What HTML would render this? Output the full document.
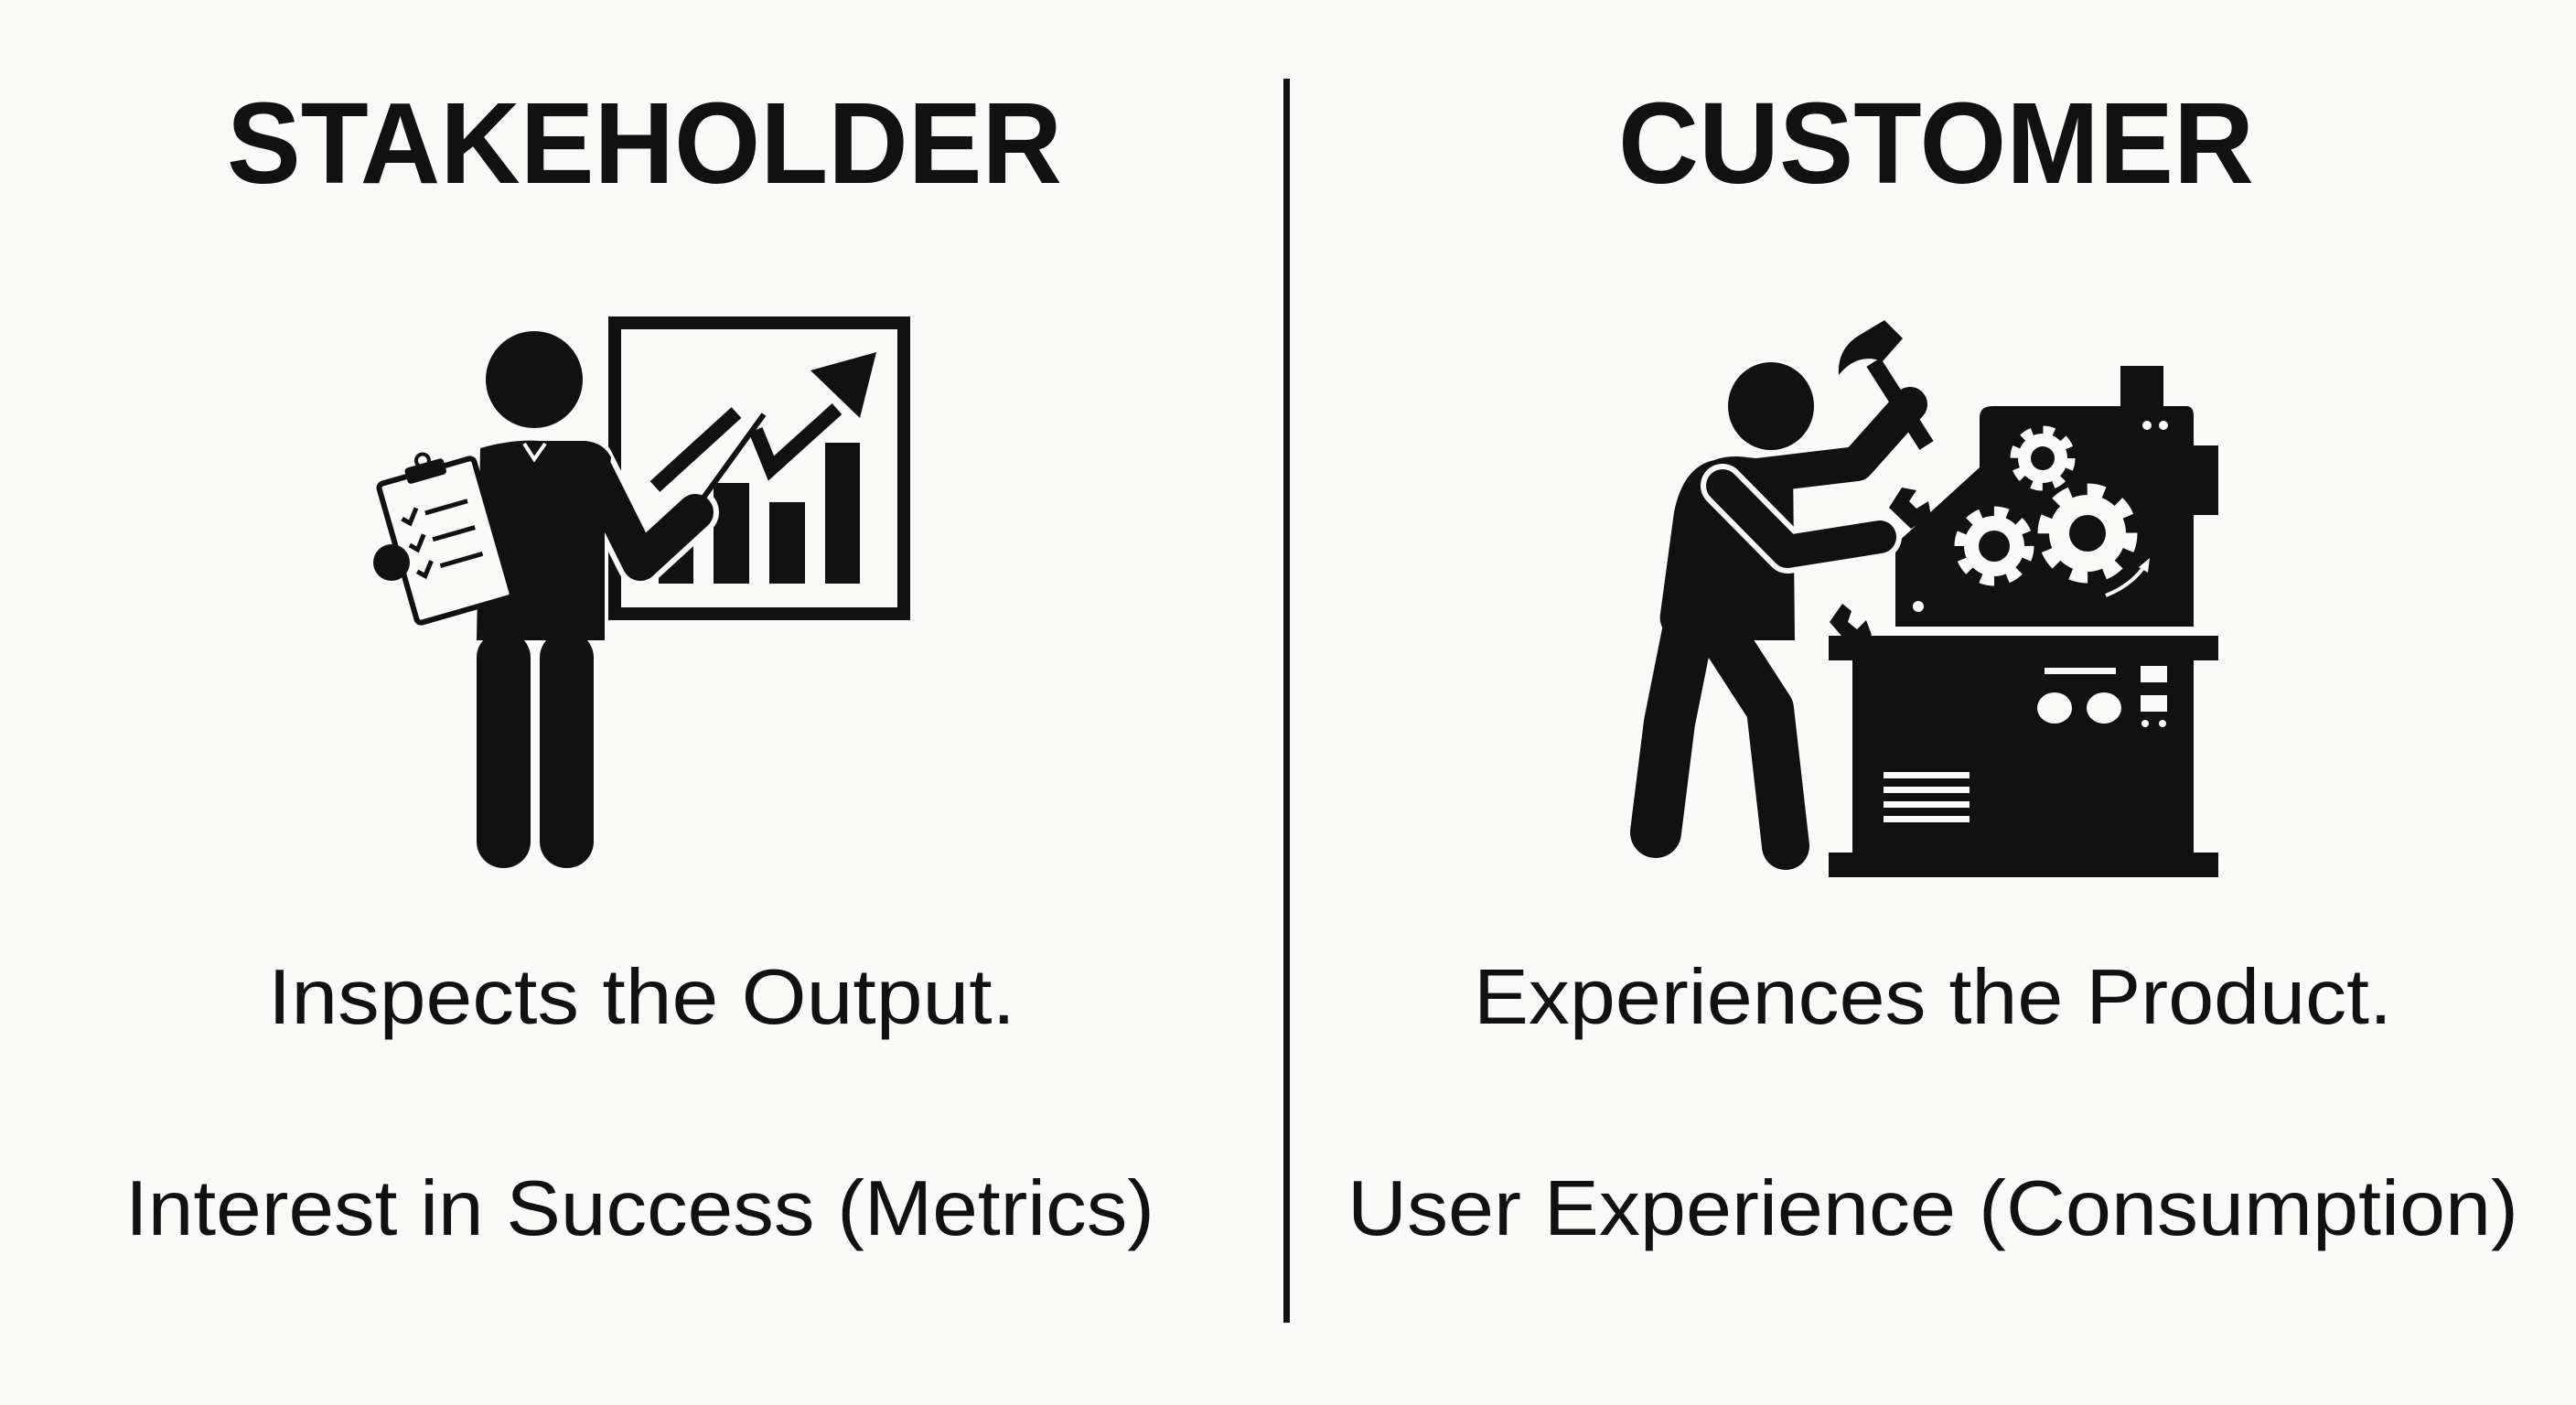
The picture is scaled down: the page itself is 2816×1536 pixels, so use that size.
<!DOCTYPE html>
<html><head><meta charset="utf-8"><style>
html,body{margin:0;padding:0;background:#fafaf8;}
svg{display:block;}
</style></head><body>
<svg width="2816" height="1536" viewBox="0 0 2816 1536" xmlns="http://www.w3.org/2000/svg">
<rect width="2816" height="1536" fill="#fafaf8"/>
<g font-family="'Liberation Sans', sans-serif" fill="#111">
<text x="248" y="200" font-size="126" font-weight="bold" textLength="913" lengthAdjust="spacingAndGlyphs">STAKEHOLDER</text>
<text x="1769" y="200" font-size="126" font-weight="bold" textLength="695" lengthAdjust="spacingAndGlyphs">CUSTOMER</text>
<text x="293" y="1119" font-size="85" textLength="817" lengthAdjust="spacingAndGlyphs">Inspects the Output.</text>
<text x="137" y="1350" font-size="85" textLength="1125" lengthAdjust="spacingAndGlyphs">Interest in Success (Metrics)</text>
<text x="1611" y="1119" font-size="85" textLength="1004" lengthAdjust="spacingAndGlyphs">Experiences the Product.</text>
<text x="1473" y="1350" font-size="85" textLength="1280" lengthAdjust="spacingAndGlyphs">User Experience (Consumption)</text>
</g>
<rect x="1403" y="86" width="7" height="1360" fill="#111"/>

<!-- Stakeholder icon -->
<g fill="#111">
<rect x="672" y="353" width="316" height="318" fill="none" stroke="#111" stroke-width="14"/>
<rect x="720" y="595" width="38" height="43"/>
<rect x="780" y="528" width="39" height="110"/>
<rect x="841" y="549" width="39" height="89"/>
<rect x="902" y="484" width="38" height="154"/>
<polyline points="716,532 805,451" fill="none" stroke="#111" stroke-width="16"/>
<polyline points="826,470 843,512 915,447" fill="none" stroke="#111" stroke-width="16"/>
<polygon points="958,385 886,405 940,457"/>
<circle cx="584" cy="415" r="53"/>
<polyline points="645,505 700,615 760,560" fill="none" stroke="#fafaf8" stroke-width="52" stroke-linejoin="round" stroke-linecap="round"/>
<path d="M525,490 Q560,480 590,482 L640,482 Q660,484 668,500 L661,560 L661,700 L521,700 Z"/>
<polyline points="645,505 700,615 760,560" fill="none" stroke="#111" stroke-width="40" stroke-linejoin="round" stroke-linecap="round"/>
<rect x="521" y="690" width="59" height="259" rx="29"/>
<rect x="590" y="690" width="59" height="259" rx="29"/>
<polyline points="573,485 584,502 596,485" fill="none" stroke="#fafaf8" stroke-width="4"/>
<line x1="764" y1="551" x2="835" y2="453" stroke="#111" stroke-width="6"/>
<g transform="rotate(-16 487 591)">
<rect x="433" y="512" width="108" height="158" rx="5" fill="#fafaf8" stroke="#111" stroke-width="6"/>
<rect x="465" y="503" width="44" height="18" rx="4"/>
<circle cx="487" cy="500" r="7" fill="none" stroke="#111" stroke-width="4"/>
<g stroke="#111" stroke-width="5" fill="none">
<polyline points="448,555 455,562 466,548"/><line x1="474" y1="556" x2="522" y2="556"/>
<polyline points="448,585 455,592 466,578"/><line x1="474" y1="586" x2="522" y2="586"/>
<polyline points="448,615 455,622 466,608"/><line x1="474" y1="616" x2="522" y2="616"/>
</g>
</g>
<circle cx="428" cy="615" r="20"/>
</g>

<!-- Customer icon -->
<g fill="#111">
<rect x="1999" y="695" width="426" height="27"/>
<rect x="2025" y="715" width="373" height="244"/>
<rect x="1999" y="932" width="426" height="27"/>
<path d="M2164,457 Q2164,444 2178,444 L2390,444 Q2398,444 2398,455 L2398,487 L2425,487 L2425,563 L2398,563 L2398,685 L2072,685 L2072,595 L2164,511 Z"/>
<rect x="2318" y="400" width="47" height="50"/>
<circle cx="2347" cy="465" r="5" fill="#fafaf8"/><circle cx="2365" cy="465" r="5" fill="#fafaf8"/>
<circle cx="2097" cy="663" r="6" fill="#fafaf8"/>
<rect x="2235" y="730" width="78" height="7" fill="#fafaf8"/>
<ellipse cx="2246" cy="774" rx="19" ry="17" fill="#fafaf8"/>
<ellipse cx="2300" cy="774" rx="19" ry="17" fill="#fafaf8"/>
<rect x="2340" y="728" width="29" height="18" fill="#fafaf8"/>
<rect x="2340" y="760" width="29" height="18" fill="#fafaf8"/>
<circle cx="2345" cy="791" r="4" fill="#fafaf8"/><circle cx="2364" cy="791" r="4" fill="#fafaf8"/>
<g fill="#fafaf8"><rect x="2059" y="844" width="94" height="7"/><rect x="2059" y="860" width="94" height="7"/><rect x="2059" y="876" width="94" height="7"/><rect x="2059" y="892" width="94" height="7"/></g>
<g>
<circle cx="2233" cy="501" r="30" fill="none" stroke="#fafaf8" stroke-width="11" stroke-dasharray="11.8 11.8"/>
<circle cx="2233" cy="501" r="27" fill="#fafaf8"/><circle cx="2233" cy="501" r="13"/>
<circle cx="2180" cy="597" r="37" fill="none" stroke="#fafaf8" stroke-width="13" stroke-dasharray="14.5 14.5"/>
<circle cx="2180" cy="597" r="33" fill="#fafaf8"/><circle cx="2180" cy="597" r="17"/>
<circle cx="2282" cy="583" r="47" fill="none" stroke="#fafaf8" stroke-width="15" stroke-dasharray="18.4 18.4"/>
<circle cx="2282" cy="583" r="42" fill="#fafaf8"/><circle cx="2282" cy="583" r="20"/>
</g>
<path d="M2302,651 Q2330,640 2345,618" fill="none" stroke="#fafaf8" stroke-width="4"/>
<polygon points="2350,610 2348,626 2338,620" fill="#fafaf8"/>
<!-- person -->
<ellipse cx="1936" cy="444" rx="47" ry="48"/>
<path d="M1874,503 Q1890,497 1910,500 L1960,505 L1962,700 L1834,700 Q1812,690 1815,671 L1830,560 Q1840,510 1874,503 Z"/>
<polyline points="1896,523 2030,507 2088,442" fill="none" stroke="#111" stroke-width="38" stroke-linejoin="round" stroke-linecap="round"/>
<polyline points="1883,531 1954,603 2055,587" fill="none" stroke="#fafaf8" stroke-width="48" stroke-linejoin="round" stroke-linecap="round"/>
<polyline points="1883,531 1954,603 2055,587" fill="none" stroke="#111" stroke-width="36" stroke-linejoin="round" stroke-linecap="round"/>
<polyline points="1845,690 1825,790 1810,910" fill="none" stroke="#111" stroke-width="56" stroke-linecap="round" stroke-linejoin="round"/>
<polyline points="1880,690 1935,775 1952,925" fill="none" stroke="#111" stroke-width="52" stroke-linecap="round" stroke-linejoin="round"/>
<line x1="2048" y1="396" x2="2106" y2="487" stroke="#111" stroke-width="18"/>
<path d="M2010,410 Q2008,380 2035,365 L2060,350 L2080,370 L2058,395 Q2030,385 2010,410 Z"/>
<path d="M2065,555 l14,-22 l16,3 l-8,12 l8,8 l13,-8 l3,16 l-22,14 Z"/>
<path d="M2000,680 l14,-20 l10,8 l-4,12 l10,8 l10,-10 l6,16 l-20,16 Z"/>
</g>
</svg>
</body></html>
